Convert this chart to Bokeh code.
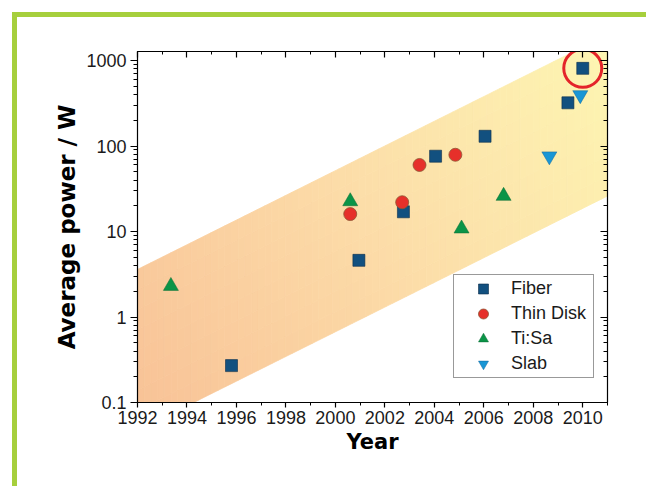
from bokeh.plotting import figure
from bokeh.models import (FixedTicker, LinearAxis, LogAxis, Legend, LegendItem,
                          CustomJSTickFormatter)
from bokeh.layouts import column
from bokeh.embed import file_html
from bokeh.resources import INLINE
import numpy as np

# ---------------- data ----------------
fiber_year = [1995.8, 2000.95, 2002.75, 2004.05, 2006.05, 2009.4, 2010.0]
fiber_power = [0.27, 4.6, 17, 76, 130, 320, 810]
disk_year = [2000.6, 2002.7, 2003.4, 2004.85]
disk_power = [16, 22, 60, 79]
tisa_year = [1993.35, 2000.6, 2005.1, 2006.8]
tisa_power = [2.3, 22.5, 10.8, 26]
slab_year = [2008.65, 2009.9]
slab_power = [76, 395]

band_year = [1992, 2011]
band_upper = [3.6, 2000]
band_lower = [0.047, 26]
band_stops = [(0.0, "#f8c196"), (0.5, "#fcdca8"), (1.0, "#fdf6b2")]

x_ticks = list(range(1992, 2011, 2))
x_minor = list(range(1992, 2012))
y_ticks = [0.1, 1, 10, 100, 1000]
y_tick_labels = ["0.1", "1", "10", "100", "1000"]
y_minor = [m * 10.0 ** e for e in range(-1, 3) for m in range(2, 10)]

FONT = "Liberation Sans"
TITLE_FONT = "DejaVu Sans"
GREEN = "#a6cf3c"

p = figure(width=629, height=469, x_range=(1992, 2011), y_range=(0.1, 1275),
           y_axis_type="log", output_backend="svg", toolbar_location=None,
           min_border_left=120, min_border_right=39, min_border_top=34,
           min_border_bottom=84, background_fill_color="white",
           border_fill_color="white", outline_line_color="black")
p.grid.visible = False

# ---------------- gradient band ----------------
def hex2rgb(h):
    return np.array([int(h[i:i + 2], 16) for i in (1, 3, 5)], dtype=float)

def color_at(t):
    t = min(max(t, 0), 1)
    for (t0, c0), (t1, c1) in zip(band_stops[:-1], band_stops[1:]):
        if t <= t1:
            f = (t - t0) / (t1 - t0)
            c = hex2rgb(c0) * (1 - f) + hex2rgb(c1) * f
            return "#%02x%02x%02x" % tuple(int(round(v)) for v in c)
    return band_stops[-1][1]

lu = np.log10(band_upper)
ll = np.log10(band_lower)
NX, NY = 70, 8
xs_e = np.linspace(band_year[0], band_year[1], NX + 1)
def up(x):
    return np.interp(x, band_year, lu)
def lo(x):
    return np.interp(x, band_year, ll)
px_year, px_dec = 24.74, 85.5
def proj(x, ly):
    return (x - band_year[0]) * px_year + 0.7 * ly * px_dec
corners = [proj(band_year[0], ll[0]), proj(band_year[1], lu[1])]
pmin, pmax = min(corners), max(corners)
pxs, pys, pcs = [], [], []
for i in range(NX):
    a, b = xs_e[i], xs_e[i + 1]
    for j in range(NY):
        fa0 = j / NY
        fa1 = (j + 1) / NY
        ya0 = lo(a) + (up(a) - lo(a)) * fa0
        ya1 = lo(a) + (up(a) - lo(a)) * fa1
        yb0 = lo(b) + (up(b) - lo(b)) * fa0
        yb1 = lo(b) + (up(b) - lo(b)) * fa1
        pxs.append([a, b, b, a])
        pys.append([10 ** ya0, 10 ** yb0, 10 ** yb1, 10 ** ya1])
        xm, ym = (a + b) / 2, (ya0 + ya1 + yb0 + yb1) / 4
        pcs.append(color_at((proj(xm, ym) - pmin) / (pmax - pmin)))
p.patches(pxs, pys, fill_color=pcs, line_color=pcs, line_width=0.8)

# ---------------- markers ----------------
r_f = p.scatter(fiber_year, fiber_power, marker="square", size=12,
                fill_color="#12507f", line_color="#0b2d4a", line_width=0.6)
r_d = p.scatter(disk_year, disk_power, marker="circle", size=13,
                fill_color="#e6302a", line_color="#8e5634", line_width=0.8)
r_t = p.scatter(tisa_year, tisa_power, marker="triangle", size=15,
                fill_color="#0b9447", line_color="#0a6a34", line_width=0.5)
r_s = p.scatter(slab_year, slab_power, marker="inverted_triangle", size=15,
                fill_color="#1996d5", line_color="#10679c", line_width=0.5)
# highlight ring around the top fiber result
p.scatter([fiber_year[-1]], [fiber_power[-1]], marker="circle", size=38,
          fill_color=None, line_color="#e4242a", line_width=3)

# ---------------- axes ----------------
xa = p.xaxis[0]
xa.ticker = FixedTicker(ticks=x_ticks, minor_ticks=x_minor)
xa.axis_label = "Year"
ya = p.yaxis[0]
ya.ticker = FixedTicker(ticks=y_ticks, minor_ticks=y_minor)
ya.major_label_overrides = dict(zip(y_ticks, y_tick_labels))
ya.axis_label = "Average power / W"

for ax, size in ((xa, "21px"), (ya, "23px")):
    ax.axis_label_text_font = TITLE_FONT
    ax.axis_label_text_font_style = "bold"
    ax.axis_label_text_font_size = size
    ax.axis_label_text_color = "black"
    ax.major_label_text_font = FONT
    ax.major_label_text_font_size = "18px"
    ax.major_label_text_color = "#1a1a1a"
    ax.axis_line_color = "black"
    ax.axis_line_width = 1.2
    ax.major_tick_line_color = "black"
    ax.minor_tick_line_color = "black"
    ax.major_tick_line_width = 1.2
    ax.minor_tick_line_width = 1.0
    ax.major_tick_in = 0
    ax.minor_tick_in = 0
xa.major_tick_out = 5
xa.minor_tick_out = 3
xa.major_label_standoff = 3
xa.axis_label_standoff = 3
ya.major_tick_out = 7
ya.minor_tick_out = 4
ya.major_label_standoff = 4
ya.axis_label_standoff = 3

blank = CustomJSTickFormatter(code="return ''")
top = LinearAxis(ticker=FixedTicker(ticks=x_ticks, minor_ticks=x_minor),
                 formatter=blank, major_tick_in=6, major_tick_out=0,
                 minor_tick_in=3, minor_tick_out=0, axis_line_width=1.2,
                 major_tick_line_width=1.2, major_label_text_font_size="1px",
                 major_label_standoff=0)
p.add_layout(top, "above")
right = LogAxis(ticker=FixedTicker(ticks=y_ticks, minor_ticks=y_minor),
                formatter=blank, major_tick_in=7, major_tick_out=0,
                minor_tick_in=4, minor_tick_out=0, axis_line_width=1.2,
                major_tick_line_width=1.2, major_label_text_font_size="1px",
                major_label_standoff=0)
p.add_layout(right, "right")

# ---------------- legend ----------------
legend = Legend(items=[LegendItem(label="Fiber", renderers=[r_f]),
                       LegendItem(label="Thin Disk", renderers=[r_d]),
                       LegendItem(label="Ti:Sa", renderers=[r_t]),
                       LegendItem(label="Slab", renderers=[r_s])],
                location=(316, 24), padding=1, spacing=0, margin=0,
                glyph_height=25, glyph_width=56, label_height=25,
                label_width=81, label_standoff=0, label_text_font=FONT,
                label_text_font_size="18px", label_text_color="#1a1a1a",
                border_line_color="#333333", border_line_width=1,
                background_fill_color="white", background_fill_alpha=1)
p.add_layout(legend)

layout = column(p, styles={"border-top": "5px solid " + GREEN,
                           "border-left": "5px solid " + GREEN,
                           "margin-left": "12px", "margin-top": "12px"})

open("out.html", "w").write(file_html(layout, INLINE))
